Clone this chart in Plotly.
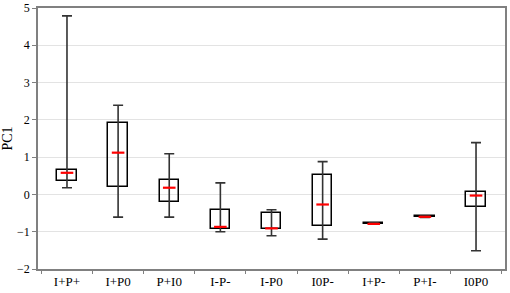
import plotly.graph_objects as go

categories = ["I+P+", "I+P0", "P+I0", "I-P-", "I-P0", "I0P-", "I+P-", "P+I-", "I0P0"]
minimum = [0.18, -0.61, -0.61, -1.00, -1.11, -1.20, -0.80, -0.62, -1.51]
q1 = [0.36, 0.21, -0.20, -0.93, -0.93, -0.85, -0.79, -0.61, -0.33]
median = [0.58, 1.12, 0.18, -0.87, -0.91, -0.27, -0.79, -0.60, -0.03]
q3 = [0.65, 1.91, 0.38, -0.42, -0.51, 0.51, -0.77, -0.59, 0.07]
maximum = [4.79, 2.39, 1.09, 0.31, -0.41, 0.88, -0.76, -0.58, 1.39]

fig = go.Figure()

fig.add_trace(go.Bar(
    x=categories,
    y=[b - a for a, b in zip(q1, q3)],
    base=q1,
    width=0.38,
    marker=dict(color="rgba(255,255,255,0)", line=dict(color="#000000", width=1.5)),
    hoverinfo="skip",
    showlegend=False,
))

fig.add_trace(go.Scatter(
    x=categories,
    y=median,
    mode="markers",
    marker=dict(symbol="line-ew", size=9, color="#ff0000",
                line=dict(color="#ff0000", width=2.2)),
    error_y=dict(
        type="data",
        symmetric=False,
        array=[mx - md for mx, md in zip(maximum, median)],
        arrayminus=[md - mn for md, mn in zip(median, minimum)],
        color="#333333",
        thickness=1.6,
        width=5,
    ),
    hoverinfo="skip",
    showlegend=False,
))

serif = "Liberation Serif, Times New Roman, serif"

fig.update_layout(
    width=510,
    height=293,
    margin=dict(l=38, r=5, t=8, b=24),
    paper_bgcolor="white",
    plot_bgcolor="white",
    font=dict(family=serif, size=13, color="#000000"),
    bargap=0,
    hovermode=False,
)

fig.update_xaxes(
    type="category",
    automargin=False,
    showline=True,
    linecolor="#808080",
    linewidth=1.5,
    mirror=True,
    ticks="outside",
    tickson="boundaries",
    ticklen=3,
    tickcolor="#808080",
    showgrid=False,
    tickfont=dict(family=serif, size=13),
    ticklabeloverflow="allow",
)

fig.update_yaxes(
    automargin=False,
    range=[-2, 5],
    dtick=1,
    showline=True,
    linecolor="#808080",
    linewidth=1.5,
    mirror=True,
    ticks="outside",
    ticklen=4,
    tickcolor="#808080",
    showgrid=True,
    gridcolor="#e3e3e3",
    gridwidth=1,
    zeroline=False,
    title=dict(text="PC1", font=dict(family=serif, size=14)),
    tickfont=dict(family=serif, size=12),
    ticklabeloverflow="allow",
)

fig.write_html("out.html", config={"displayModeBar": False},
               post_script="document.body.style.margin='0';")
